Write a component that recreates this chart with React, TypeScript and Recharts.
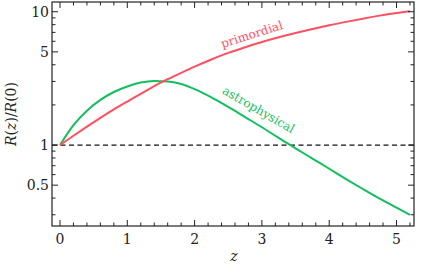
import { LineChart, Line, XAxis, YAxis, ReferenceLine, ReferenceDot } from "recharts";

// redshift grid and the two normalised rates
const zValues = [0, 0.2, 0.4, 0.6, 0.8, 1.0, 1.2, 1.4, 1.6, 1.8, 2.0, 2.25, 2.5, 2.75, 3.0, 3.25, 3.5, 3.75, 4.0, 4.25, 4.5, 4.75, 5.0, 5.2];
const primordial = [1, 1.175, 1.374, 1.6, 1.85, 2.12, 2.42, 2.77, 3.12, 3.48, 3.87, 4.38, 4.91, 5.42, 5.93, 6.43, 6.92, 7.41, 7.91, 8.39, 8.87, 9.35, 9.8, 10.1];
const astrophysical = [1, 1.41, 1.81, 2.18, 2.5, 2.75, 2.94, 3.02, 3.0, 2.87, 2.63, 2.28, 1.93, 1.62, 1.36, 1.13, 0.945, 0.792, 0.664, 0.556, 0.468, 0.396, 0.339, 0.3];

const xMajor = [0, 1, 2, 3, 4, 5];
const xTicks = [0, 0.2, 0.4, 0.6, 0.8, 1, 1.2, 1.4, 1.6, 1.8, 2, 2.2, 2.4, 2.6, 2.8, 3, 3.2, 3.4, 3.6, 3.8, 4, 4.2, 4.4, 4.6, 4.8, 5, 5.2];
const yMajor = [0.5, 1, 5, 10];
const yTicks = [0.3, 0.4, 0.5, 0.6, 0.7, 0.8, 0.9, 1, 2, 3, 4, 5, 6, 7, 8, 9, 10];

const data = zValues.map((z, i) => ({ z, prim: primordial[i], astro: astrophysical[i] }));

const W = 421;
const H = 278;
// plot box (matches the margins / axis sizes below)
const LEFT = 52;
const RIGHT = 414;
const TOP = 2;
const BOTTOM = 226;

const AXIS = "#222";
const RED = "#ff5060";
const GREEN = "#12bf5e";
const FONT = "DejaVu Serif";

const XTick = (props: any) => {
  const { x, payload } = props;
  const major = xMajor.includes(payload.value);
  const len = major ? 6 : 3.5;
  return (
    <g>
      <line x1={x} x2={x} y1={BOTTOM} y2={BOTTOM - len} stroke={AXIS} strokeWidth={1} />
      <line x1={x} x2={x} y1={TOP} y2={TOP + len} stroke={AXIS} strokeWidth={1} />
      {major && (
        <text x={x} y={BOTTOM + 18} textAnchor="middle" fontFamily={FONT} fontSize={14} fill={AXIS}>
          {payload.value}
        </text>
      )}
    </g>
  );
};

const YTick = (props: any) => {
  const { y, payload } = props;
  const major = yMajor.includes(payload.value);
  const len = major ? 6 : 3.5;
  return (
    <g>
      <line x1={LEFT} x2={LEFT + len} y1={y} y2={y} stroke={AXIS} strokeWidth={1} />
      <line x1={RIGHT} x2={RIGHT - len} y1={y} y2={y} stroke={AXIS} strokeWidth={1} />
      {major && (
        <text x={LEFT - 3} y={y + 5} textAnchor="end" fontFamily={FONT} fontSize={14} fill={AXIS}>
          {payload.value}
        </text>
      )}
    </g>
  );
};

const CurveLabel = (props: any) => {
  const { viewBox, caption, color, rot } = props;
  const cx = viewBox.x + (viewBox.width || 0) / 2;
  const cy = viewBox.y + (viewBox.height || 0) / 2;
  return (
    <text
      transform={`translate(${cx},${cy}) rotate(${rot})`}
      textAnchor="middle"
      dominantBaseline="central"
      fontFamily={FONT}
      fontSize={12}
      fill={color}
    >
      {caption}
    </text>
  );
};

export default function App() {
  return (
    <div style={{ position: "absolute", left: 0, top: 0, width: W, height: H, background: "#fff" }}>
      <LineChart width={W} height={H} data={data} margin={{ top: TOP, right: W - RIGHT, bottom: 0, left: 0 }}>
        <XAxis xAxisId="b" dataKey="z" type="number" domain={[-0.119, 5.26]} allowDataOverflow ticks={xTicks} interval={0}
          tick={<XTick />} tickLine={false} height={H - BOTTOM} axisLine={false} />
        <YAxis yAxisId="l" scale="log" type="number" domain={[0.247, 11.83]} allowDataOverflow ticks={yTicks} interval={0}
          tick={<YTick />} tickLine={false} width={LEFT} axisLine={false} />
        <ReferenceLine xAxisId="b" yAxisId="l" y={1} stroke="#111" strokeWidth={1.2} strokeDasharray="5 3.5" />
        <Line xAxisId="b" yAxisId="l" type="monotone" dataKey="astro" stroke={GREEN} strokeWidth={2} dot={false} isAnimationActive={false} />
        <Line xAxisId="b" yAxisId="l" type="monotone" dataKey="prim" stroke={RED} strokeWidth={2} dot={false} isAnimationActive={false} />
        <ReferenceDot xAxisId="b" yAxisId="l" x={2.85} y={6.75} r={0} fill="none" stroke="none"
          label={<CurveLabel caption="primordial" color={RED} rot={-17.5} />} />
        <ReferenceDot xAxisId="b" yAxisId="l" x={2.95} y={1.84} r={0} fill="none" stroke="none"
          label={<CurveLabel caption="astrophysical" color={GREEN} rot={30} />} />
      </LineChart>
      <svg width={W} height={H} style={{ position: "absolute", left: 0, top: 0, pointerEvents: "none" }}>
        <rect x={LEFT} y={TOP} width={RIGHT - LEFT} height={BOTTOM - TOP} fill="none" stroke={AXIS} strokeWidth={1.2} />
        <text transform={`translate(16,${(TOP + BOTTOM) / 2}) rotate(-90)`} textAnchor="middle" fontFamily={FONT} fontSize={14} fill={AXIS}>
          <tspan fontStyle="italic">R</tspan>(<tspan fontStyle="italic">z</tspan>)/<tspan fontStyle="italic">R</tspan>(0)
        </text>
        <text x={(LEFT + RIGHT) / 2 + 1} y={261} textAnchor="middle" fontFamily={FONT} fontSize={14} fontStyle="italic" fill={AXIS}>z</text>
      </svg>
    </div>
  );
}
